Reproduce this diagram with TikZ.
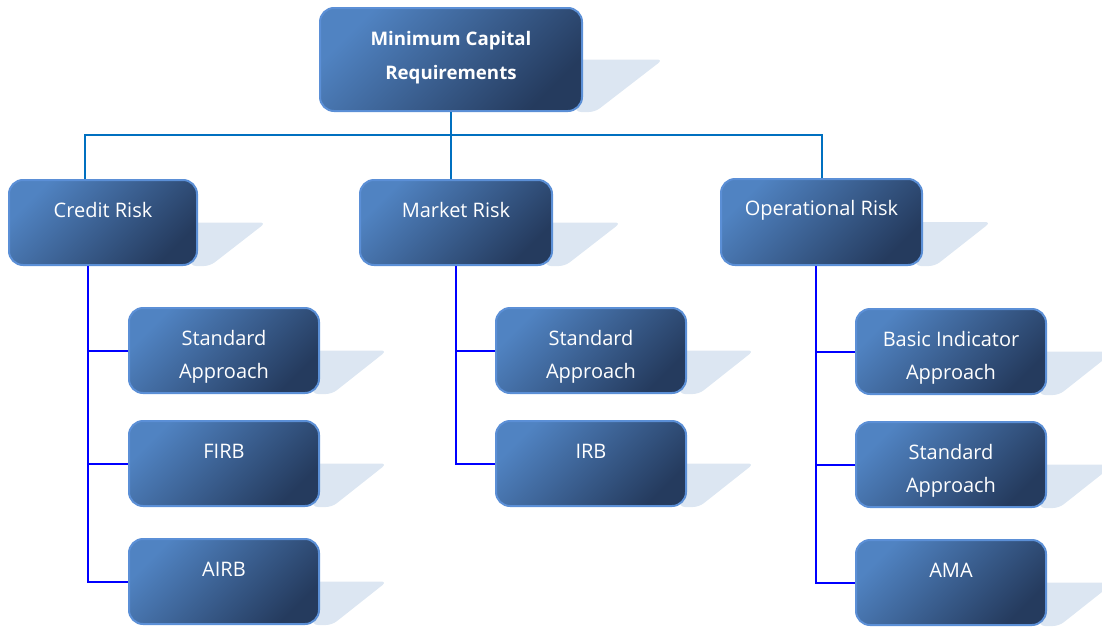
\documentclass[tikz,border=0pt]{standalone}
\usepackage{fontspec}
\setmainfont{Open Sans}
\usepackage{tikz}
\usetikzlibrary{calc,positioning,backgrounds}

\newdimen\px \px=0.75pt
\definecolor{boxlight}{RGB}{80,131,194}
\definecolor{boxdark}{RGB}{37,59,94}
\definecolor{boxrim}{RGB}{91,143,214}
\definecolor{shadefill}{RGB}{220,230,242}
\definecolor{toplink}{RGB}{0,112,192}
\definecolor{sublink}{RGB}{0,0,255}
\newcommand{\boxtxt}[4][37]{\parbox[c][#3\px][t]{#2\px}{\centering\rule{0pt}{#1\px}#4}}

\tikzset{
	riskbox/.style={draw=boxrim,line width=2\px,rounded corners=14\px,
		top color=boxlight,bottom color=boxdark,shading angle=45,
		inner sep=0pt,text=white,font=\fontsize{15}{24.75}\selectfont},
	toplink/.style={draw=toplink,line width=2\px},
	sublink/.style={draw=sublink,line width=2\px},
}

\begin{document}
\begin{tikzpicture}
		\path[use as bounding box] (0,0) rectangle (1102\px,-628\px);
		\node(mcr) [riskbox,anchor=north west,font=\fontsize{14}{24.75}\selectfont\bfseries] at (319\px,-7\px) {\boxtxt[38]{262}{103}{Minimum Capital\\Requirements}};
		\node(cr) [riskbox,below left=67\px and 121\px of mcr.south west] {\boxtxt{188}{85}{Credit Risk}};
		\node(mr) [riskbox,below=67\px of mcr,xshift=5\px] {\boxtxt{192}{85}{Market Risk}};
		\node(orisk) [riskbox,below right=66\px and 137\px of mcr.south east] {\boxtxt[36]{201}{86}{Operational Risk}};
		% credit risk
		\node(cr1) [riskbox,below right=41\px and 120\px of cr.south west] {\boxtxt{190}{85}{Standard\\Approach}};
		\node(cr2) [riskbox,below=26\px of cr1] {\boxtxt{190}{85}{FIRB}};
		\node(cr3) [riskbox,below=31\px of cr2] {\boxtxt{190}{85}{AIRB}};
		% market risk
		\node(mr1) [riskbox,below right=41\px and 136\px of mr.south west] {\boxtxt{190}{85}{Standard\\Approach}};
		\node(mr2) [riskbox,below=26\px of mr1] {\boxtxt{190}{85}{IRB}};
		% operational risk
		\node(or1) [riskbox,below right=42\px and 135\px of orisk.south west] {\boxtxt{190}{85}{Basic Indicator\\Approach}};
		\node(or2) [riskbox,below=26\px of or1] {\boxtxt{190}{85}{Standard\\Approach}};
		\node(or3) [riskbox,below=31\px of or2] {\boxtxt{190}{85}{AMA}};
		\coordinate (bus) at ($(mcr.south)+(0,-23\px)$);
		\draw[toplink] (mcr.south) -- (mcr.south |- mr.north);
		\draw[toplink] ([xshift=-18\px]cr.north) |- (bus) -| (orisk.north);
		\draw[sublink] ([xshift=-15\px]cr.south) coordinate (crt) |- (cr3.west);
		\draw[sublink] (mr.south) coordinate (mrt) |- (mr2.west);
		\draw[sublink] ([xshift=-6\px]orisk.south) coordinate (ort) |- (or3.west);
		\foreach \n/\t in {cr1/crt,cr2/crt,mr1/mrt,or1/ort,or2/ort}
			\draw[sublink] (\n.west) -- (\n.west -| \t);
		\begin{scope}[on background layer]
			\foreach \n/\d in {mcr/80,cr/68,mr/68,orisk/68,cr1/67,cr2/67,cr3/67,mr1/67,mr2/67,or1/67,or2/67,or3/67}
				\fill[shadefill,rounded corners=6\px] ([xshift=-8\px]\n.east) -- ([xshift=\d\px]\n.east)
					-- ([xshift=12\px]\n.south east) -- ([xshift=-8\px]\n.south east) -- cycle;
		\end{scope}
	\end{tikzpicture}
\end{document}
